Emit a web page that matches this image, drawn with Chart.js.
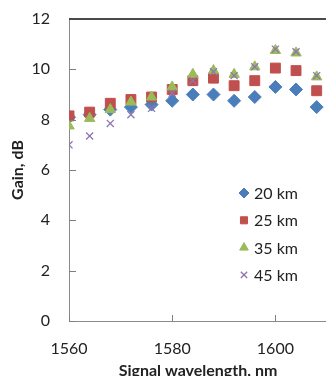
<!DOCTYPE html>
<html>
<head>
<meta charset="utf-8">
<script src="https://cdn.jsdelivr.net/npm/chart.js@4/dist/chart.umd.min.js"></script>
<style>
  html, body { margin: 0; padding: 0; background: #fff; overflow: hidden; }
  #wrap { width: 326px; height: 376px; overflow: hidden; }
</style>
</head>
<body>
<div id="wrap"><canvas id="gain" width="335" height="384"></canvas></div>
<script>
// Signal wavelength, nm
var wavelengths = [1560, 1564, 1568, 1572, 1576, 1580, 1584, 1588, 1592, 1596, 1600, 1604, 1608];

// Gain, dB for each fibre length
var gain20km = [8.1, 8.2, 8.4, 8.5, 8.6, 8.75, 9.0, 9.0, 8.75, 8.9, 9.3, 9.2, 8.5];
var gain25km = [8.15, 8.3, 8.65, 8.8, 8.9, 9.2, 9.55, 9.65, 9.35, 9.55, 10.05, 9.95, 9.15];
var gain35km = [7.75, 8.05, 8.4, 8.7, 8.9, 9.3, 9.8, 9.95, 9.8, 10.1, 10.75, 10.65, 9.7];
var gain45km = [7.0, 7.35, 7.85, 8.2, 8.45, 9.05, 9.55, 9.9, 9.75, 10.1, 10.8, 10.7, 9.75];

var seriesLabels = ["20 km", "25 km", "35 km", "45 km"];
var xTicks = [1560, 1580, 1600];

function toPoints(ys) {
  return ys.map(function (y, i) { return { x: wavelengths[i], y: y }; });
}

// Tick marks pointing into the plot, plus the dark line along the top
function drawFrame(chart) {
  var c = chart.ctx, area = chart.chartArea;
  var xs = chart.scales.x, ys = chart.scales.y;
  var left = Math.round(area.left), bottom = Math.round(area.bottom);
  c.save();
  c.fillStyle = '#7f7f7f';
  ys.ticks.forEach(function (t) {
    if (t.value === ys.max) return;
    var py = Math.round(ys.getPixelForValue(t.value));
    c.fillRect(left, py, 7, 1);
  });
  xs.ticks.forEach(function (t) {
    var px = Math.round(xs.getPixelForValue(t.value));
    c.fillRect(px, bottom - 6, 1, 6);
  });
  c.fillStyle = '#4a4a4a';
  c.fillRect(left, Math.round(area.top) - 1, Math.round(area.right) + 10 - left, 2);
  c.restore();
}

// Legend sits inside the plot, lower right
var insideLegend = {
  id: 'insideLegend',
  afterDraw: function (chart) {
    drawFrame(chart);
    var c = chart.ctx;
    c.save();
    c.font = '16px Lato';
    c.textBaseline = 'middle';
    chart.data.datasets.forEach(function (ds, i) {
      var y = 193 + i * 27.3;
      c.fillStyle = ds.backgroundColor;
      c.strokeStyle = ds.borderColor;
      c.lineWidth = ds.borderWidth;
      Chart.helpers.drawPoint(c, {
        pointStyle: ds.pointStyle,
        radius: ds.pointStyle === 'crossRot' ? 4.5 : 5,
        rotation: 0,
        borderWidth: ds.borderWidth
      }, 244, y);
      c.fillStyle = '#222';
      c.fillText(ds.label, 254, y + 1);
    });
    c.restore();
  }
};

var gainChart = new Chart(document.getElementById('gain'), {
  type: 'scatter',
  data: {
    datasets: [{
      label: seriesLabels[0],
      data: toPoints(gain20km),
      order: 3,
      pointStyle: 'rectRot',
      pointRadius: 6.5,
      backgroundColor: '#4A7EBB',
      borderColor: '#4A7EBB',
      borderWidth: 1
    }, {
      label: seriesLabels[1],
      data: toPoints(gain25km),
      order: 2,
      pointStyle: 'rect',
      pointRadius: 7,
      backgroundColor: '#C0504D',
      borderColor: '#C0504D',
      borderWidth: 1
    }, {
      label: seriesLabels[2],
      data: toPoints(gain35km),
      order: 1,
      pointStyle: 'triangle',
      pointRadius: 6,
      backgroundColor: '#9BBB59',
      borderColor: '#9BBB59',
      borderWidth: 1
    }, {
      label: seriesLabels[3],
      data: toPoints(gain45km),
      order: 0,
      pointStyle: 'crossRot',
      pointRadius: 5,
      backgroundColor: '#8064A2',
      borderColor: '#8D75B0',
      borderWidth: 1.3
    }]
  },
  options: {
    responsive: false,
    animation: false,
    events: [],
    layout: { padding: { top: 19, right: 6, left: 0, bottom: 0 } },
    plugins: {
      legend: { display: false },
      tooltip: { enabled: false }
    },
    scales: {
      x: {
        type: 'linear',
        min: 1560,
        max: 1610,
        afterBuildTicks: function (scale) {
          scale.ticks = xTicks.map(function (v) { return { value: v }; });
        },
        afterFit: function (scale) { scale.height = 63; },
        grid: { display: false, drawTicks: false },
        border: { display: true, color: '#8a8a8a', width: 1 },
        ticks: {
          padding: 18,
          color: '#222',
          font: { family: 'Lato', size: 16 },
          callback: function (v) { return String(v); }
        },
        title: {
          display: true,
          text: 'Signal wavelength, nm',
          color: '#222',
          font: { family: 'Lato', size: 16, weight: 'bold' },
          padding: { top: 0, bottom: 4 }
        }
      },
      y: {
        min: 0,
        max: 12,
        ticks: {
          stepSize: 2,
          padding: 19,
          color: '#222',
          font: { family: 'Lato', size: 16 }
        },
        afterFit: function (scale) {
          scale.width = 69;
          // tick padding would otherwise push the plot top down
          scale.paddingTop = 0;
          scale.paddingBottom = 0;
        },
        grid: { display: false, drawTicks: false },
        border: { display: true, color: '#8a8a8a', width: 1 },
        title: {
          display: true,
          text: 'Gain, dB',
          color: '#222',
          font: { family: 'Lato', size: 16, weight: 'bold' },
          padding: { top: 8, bottom: 0 }
        }
      }
    }
  },
  plugins: [insideLegend]
});
</script>
</body>
</html>
